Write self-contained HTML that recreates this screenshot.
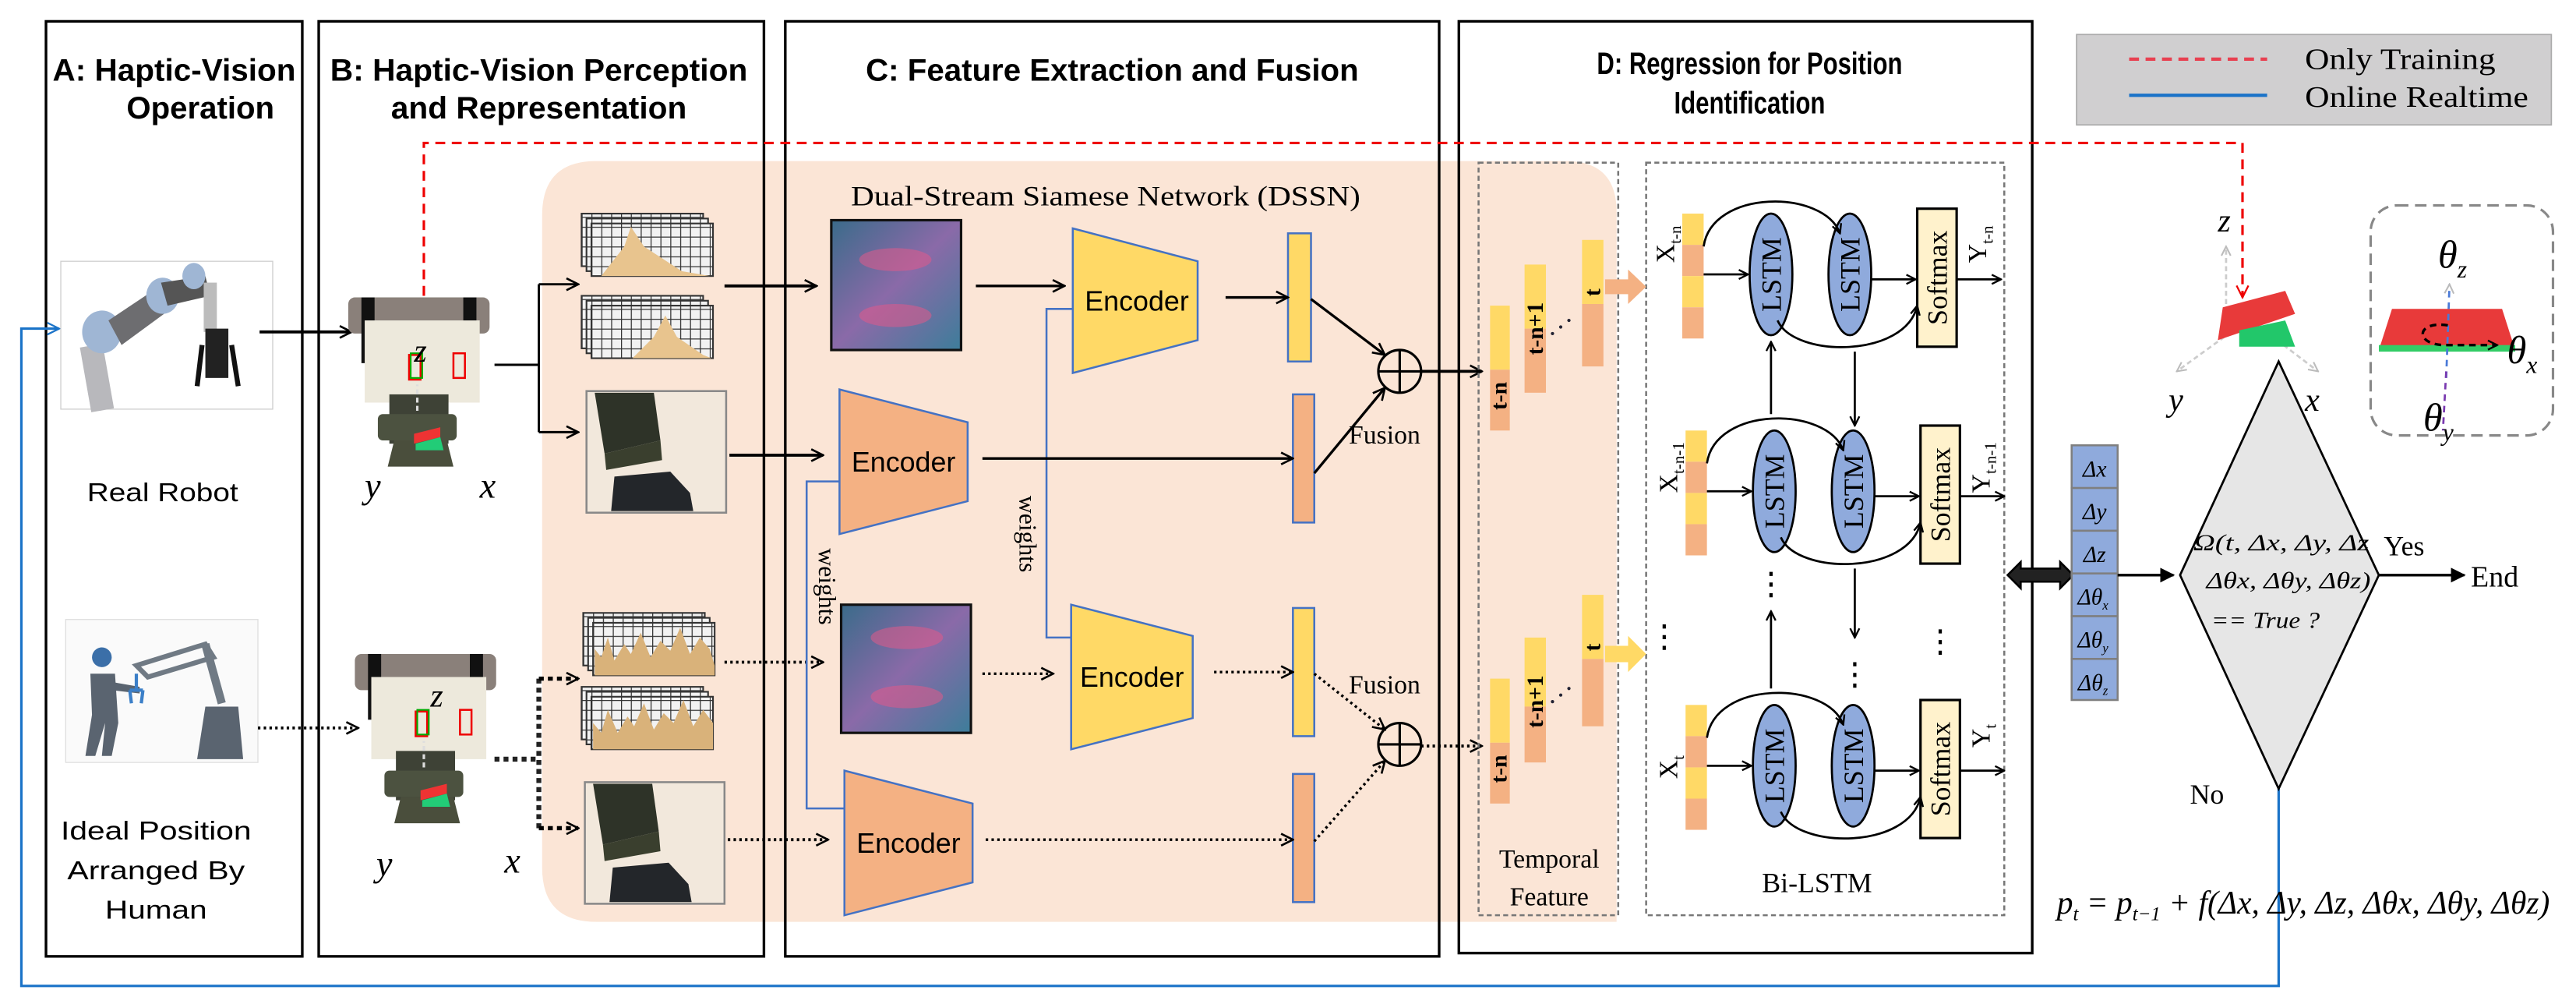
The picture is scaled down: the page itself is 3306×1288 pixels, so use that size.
<!DOCTYPE html>
<html><head><meta charset="utf-8"><style>
html,body{margin:0;padding:0;background:#fff;}
svg{display:block;}
.t{font-family:"Liberation Sans",sans-serif;}
.s{font-family:"Liberation Serif",serif;}
</style></head><body>
<svg width="3306" height="1288" viewBox="0 0 1568 611" preserveAspectRatio="none" xmlns="http://www.w3.org/2000/svg">
<defs>
<marker id="ah" viewBox="0 0 10 10" refX="9" refY="5" markerWidth="7" markerHeight="7" orient="auto" markerUnits="userSpaceOnUse"><path d="M1,1 L9,5 L1,9" fill="none" stroke="#000" stroke-width="1.6"/></marker>
<marker id="ahs" viewBox="0 0 10 10" refX="9" refY="5" markerWidth="9" markerHeight="9" orient="auto" markerUnits="userSpaceOnUse"><path d="M1,1 L9,5 L1,9" fill="none" stroke="#000" stroke-width="1.4"/></marker>
<marker id="ahr" viewBox="0 0 10 10" refX="9" refY="5" markerWidth="9" markerHeight="11" orient="auto" markerUnits="userSpaceOnUse"><path d="M1,1 L9,5 L1,9" fill="none" stroke="#e00" stroke-width="1.2"/></marker>
<marker id="ahb" viewBox="0 0 10 10" refX="9" refY="5" markerWidth="9" markerHeight="9" orient="auto" markerUnits="userSpaceOnUse"><path d="M1,1 L9,5 L1,9" fill="none" stroke="#1a73c8" stroke-width="1.2"/></marker>
<marker id="ahf" viewBox="0 0 10 10" refX="9" refY="5" markerWidth="9" markerHeight="9" orient="auto" markerUnits="userSpaceOnUse"><path d="M0,0 L10,5 L0,10 Z" fill="#000"/></marker>
<marker id="ahg" viewBox="0 0 10 10" refX="9" refY="5" markerWidth="7" markerHeight="7" orient="auto" markerUnits="userSpaceOnUse"><path d="M1,1 L9,5 L1,9" fill="none" stroke="#bbb" stroke-width="1.4"/></marker>
<pattern id="grid" width="6" height="6" patternUnits="userSpaceOnUse"><rect width="6" height="6" fill="#f2f2f2"/><path d="M0,0 H6 M0,0 V6" stroke="#333" stroke-width="1.2"/></pattern>
<linearGradient id="tac" x1="0" y1="0" x2="1" y2="1"><stop offset="0" stop-color="#3a6b8a"/><stop offset="0.5" stop-color="#8a6aa8"/><stop offset="1" stop-color="#3d7d9a"/></linearGradient>
</defs>

<path d="M330,131 Q330,98 363,98 L953,98 Q984,98 984,129 L984,561 L363,561 Q330,561 330,528 Z" fill="#fbe5d6"/>

<rect x="28" y="13" width="156" height="569" fill="none" stroke="#000" stroke-width="1.6"/>
<rect x="194" y="13" width="271" height="569" fill="none" stroke="#000" stroke-width="1.6"/>
<rect x="478" y="13" width="398" height="569" fill="none" stroke="#000" stroke-width="1.6"/>
<rect x="888" y="13" width="349" height="567" fill="none" stroke="#000" stroke-width="1.6"/>

<g class="t" font-weight="bold" font-size="19" text-anchor="middle">
<text x="106" y="49" textLength="148" lengthAdjust="spacingAndGlyphs">A: Haptic-Vision</text>
<text x="122" y="72" textLength="90" lengthAdjust="spacingAndGlyphs">Operation</text>
<text x="328" y="49" textLength="254" lengthAdjust="spacingAndGlyphs">B: Haptic-Vision Perception</text>
<text x="328" y="72" textLength="180" lengthAdjust="spacingAndGlyphs">and Representation</text>
<text x="677" y="49" textLength="300" lengthAdjust="spacingAndGlyphs">C: Feature Extraction and Fusion</text>
<text x="1065" y="45" textLength="186" lengthAdjust="spacingAndGlyphs">D: Regression for Position</text>
<text x="1065" y="69" textLength="92" lengthAdjust="spacingAndGlyphs">Identification</text>
</g>

<rect x="1264" y="21" width="289" height="55" fill="#d0cfd0" stroke="#aaa" stroke-width="0.8"/>
<line x1="1296" y1="36" x2="1380" y2="36" stroke="#e84050" stroke-width="2" stroke-dasharray="6,4"/>
<line x1="1296" y1="58" x2="1380" y2="58" stroke="#1a73c8" stroke-width="2"/>
<text class="s" x="1403" y="42" font-size="18" textLength="116" lengthAdjust="spacingAndGlyphs">Only Training</text>
<text class="s" x="1403" y="65" font-size="18" textLength="136" lengthAdjust="spacingAndGlyphs">Online Realtime</text>

<path d="M258,180 L258,87 L1365,87 L1365,181" fill="none" stroke="#e00" stroke-width="1.5" stroke-dasharray="6,4" marker-end="url(#ahr)"/>
<path d="M1387,480 L1387,600 L13,600 L13,200 L36,200" fill="none" stroke="#1a73c8" stroke-width="1.5" marker-end="url(#ahb)"/>

<rect x="37" y="159" width="129" height="90" fill="#fff" stroke="#ccc" stroke-width="0.6"/>
<g>
<rect x="52" y="210" width="14" height="40" fill="#b8b8bc" transform="rotate(-10 59 230)"/>
<ellipse cx="62" cy="202" rx="12" ry="13" fill="#9fb6d4"/>
<path d="M66,195 L96,175 L104,188 L74,210 Z" fill="#6d6d70"/>
<ellipse cx="99" cy="180" rx="10" ry="11" fill="#9fb6d4"/>
<path d="M98,172 L125,168 L128,180 L102,186 Z" fill="#555"/>
<ellipse cx="118" cy="168" rx="7" ry="8" fill="#9fb6d4"/>
<rect x="124" y="172" width="8" height="30" fill="#bcbcbc"/>
<rect x="125" y="200" width="14" height="30" fill="#222"/>
<path d="M123,210 L120,235 M141,210 L145,235" stroke="#111" stroke-width="3"/>
</g>
<text class="t" x="99" y="305" font-size="16" text-anchor="middle" textLength="92" lengthAdjust="spacingAndGlyphs">Real Robot</text>

<rect x="40" y="377" width="117" height="87" fill="#fafafa" stroke="#ddd" stroke-width="0.6"/>
<g fill="#5a6470">
<circle cx="62" cy="400" r="6" fill="#3b6fa8"/>
<path d="M55,410 L70,410 L72,440 L68,460 L62,460 L64,440 L58,460 L52,460 L56,435 Z"/>
<path d="M68,415 L85,418 L85,422 L68,420 Z"/>
<path d="M125,430 L145,430 L148,462 L120,462 Z"/>
<path d="M83,405 L125,392 L130,400 L90,412 Z" fill="none" stroke="#707a84" stroke-width="3"/>
<path d="M125,392 L135,428" stroke="#707a84" stroke-width="5"/>
<path d="M83,410 L83,420 M79,420 L87,420 M79,420 L80,428 M87,420 L86,428" stroke="#3b7fc8" stroke-width="2" fill="none"/>
</g>
<g class="t" font-size="16" text-anchor="middle">
<text x="95" y="511" textLength="116" lengthAdjust="spacingAndGlyphs">Ideal Position</text>
<text x="95" y="535" textLength="108" lengthAdjust="spacingAndGlyphs">Arranged By</text>
<text x="95" y="559" textLength="62" lengthAdjust="spacingAndGlyphs">Human</text>
</g>

<line x1="158" y1="202" x2="214" y2="202" stroke="#000" stroke-width="1.8" marker-end="url(#ahs)"/>
<line x1="157" y1="443" x2="218" y2="443" stroke="#000" stroke-width="1.8" stroke-dasharray="1.5,2" marker-end="url(#ahs)"/>

<g id="grip">
<rect x="212" y="181" width="86" height="22" fill="#8a807a" rx="4"/>
<rect x="220" y="181" width="8" height="40" fill="#111"/>
<rect x="282" y="181" width="8" height="40" fill="#111"/>
<rect x="222" y="195" width="70" height="50" fill="#ede9dc"/>
<rect x="237" y="240" width="36" height="30" fill="#3e4236"/>
<rect x="230" y="252" width="48" height="16" fill="#4c5240" rx="3"/>
<path d="M240,268 L272,268 L276,284 L236,284 Z" fill="#4a4e3c"/>
<rect x="249" y="216" width="7" height="15" fill="none" stroke="#e00" stroke-width="1.2"/>
<rect x="250" y="215" width="7" height="15" fill="none" stroke="#0a0" stroke-width="1"/>
<rect x="276" y="215" width="7" height="15" fill="none" stroke="#e00" stroke-width="1.2"/>
<path d="M252,264 L268,260 L268,266 L252,270 Z" fill="#e33"/>
<path d="M253,270 L268,266 L270,274 L253,274 Z" fill="#2c7"/>
<line x1="254" y1="250" x2="254" y2="234" stroke="#ddd" stroke-width="1.5" stroke-dasharray="3,2"/>
</g>
<text class="s" x="252" y="220" font-size="20" font-style="italic">z</text>
<text class="s" x="222" y="303" font-size="22" font-style="italic">y</text>
<text class="s" x="292" y="303" font-size="22" font-style="italic">x</text>

<use href="#grip" transform="translate(4,217)"/>
<text class="s" x="262" y="430" font-size="20" font-style="italic">z</text>
<text class="s" x="229" y="533" font-size="22" font-style="italic">y</text>
<text class="s" x="307" y="531" font-size="22" font-style="italic">x</text>

<path d="M301,222 L328,222 M328,173 L328,263" stroke="#000" stroke-width="1.4" fill="none"/>
<line x1="328" y1="173" x2="352" y2="173" stroke="#000" stroke-width="1.4" marker-end="url(#ahs)"/>
<line x1="328" y1="263" x2="352" y2="263" stroke="#000" stroke-width="1.4" marker-end="url(#ahs)"/>
<path d="M301,462 L328,462 M328,413 L328,504" stroke="#222" stroke-width="3" stroke-dasharray="3,2.5" fill="none"/>
<line x1="328" y1="413" x2="352" y2="413" stroke="#000" stroke-width="2.5" stroke-dasharray="3,2.5" marker-end="url(#ahs)"/>
<line x1="328" y1="504" x2="352" y2="504" stroke="#000" stroke-width="2.5" stroke-dasharray="3,2.5" marker-end="url(#ahs)"/>

<g id="g1">
<rect x="354" y="130" width="74" height="32" fill="url(#grid)" stroke="#333"/>
<rect x="357" y="133" width="74" height="32" fill="url(#grid)" stroke="#333"/>
<rect x="360" y="136" width="74" height="32" fill="url(#grid)" stroke="#333"/>
</g>
<path d="M366,168 L380,150 L384,138 L392,150 L415,165 L432,168 Z" fill="#e8c48e"/>
<use href="#g1" transform="translate(0,50)"/>
<path d="M385,218 L398,205 L405,192 L412,205 L428,216 L433,218 Z" fill="#e8c48e"/>
<use href="#g1" transform="translate(1,243)"/>
<path d="M362,411 L362,395 L366,400 L370,388 L374,402 L380,392 L384,398 L390,385 L396,400 L402,390 L408,396 L414,382 L420,398 L426,388 L432,395 L435,405 L435,411 Z" fill="#d9b27a"/>
<use href="#g1" transform="translate(0,288)"/>
<path d="M361,456 L361,440 L366,446 L370,432 L376,446 L382,436 L386,442 L392,428 L398,444 L404,434 L410,440 L416,426 L422,442 L428,432 L434,440 L434,456 Z" fill="#d9b27a"/>

<g id="cam">
<rect x="357" y="238" width="85" height="74" fill="#f2e8dc" stroke="#888" stroke-width="1.2"/>
<path d="M362,239 L398,239 L402,268 L368,276 Z" fill="#2e3328"/>
<path d="M368,276 L402,268 L403,280 L369,286 Z" fill="#3a3f2e"/>
<path d="M374,290 L408,287 L420,300 L422,311 L372,311 Z" fill="#23262a"/>
</g>
<use href="#cam" transform="translate(-1,238)"/>

<line x1="441" y1="174" x2="497" y2="174" stroke="#000" stroke-width="1.8" marker-end="url(#ahs)"/>
<line x1="444" y1="277" x2="501" y2="277" stroke="#000" stroke-width="1.8" marker-end="url(#ahs)"/>
<line x1="441" y1="403" x2="501" y2="403" stroke="#000" stroke-width="1.8" stroke-dasharray="1.5,2" marker-end="url(#ahs)"/>
<line x1="443" y1="511" x2="504" y2="511" stroke="#000" stroke-width="1.8" stroke-dasharray="1.5,2" marker-end="url(#ahs)"/>

<text class="s" x="518" y="125" font-size="17" textLength="310" lengthAdjust="spacingAndGlyphs">Dual-Stream Siamese Network (DSSN)</text>
<rect x="506" y="134" width="79" height="79" fill="url(#tac)" stroke="#111" stroke-width="1.5"/>
<rect x="512" y="368" width="79" height="78" fill="url(#tac)" stroke="#111" stroke-width="1.5"/>
<g fill="#e05a8a" opacity="0.55">
<ellipse cx="545" cy="158" rx="22" ry="7"/><ellipse cx="545" cy="192" rx="22" ry="7"/>
<ellipse cx="552" cy="388" rx="22" ry="7"/><ellipse cx="552" cy="424" rx="22" ry="7"/>
</g>
<path d="M653,188 L637,188 L637,388 L652,388" fill="none" stroke="#4472c4" stroke-width="1.2"/>
<path d="M511,293 L491,293 L491,492 L514,492" fill="none" stroke="#4472c4" stroke-width="1.2"/>
<text class="s" x="624" y="325" font-size="15" text-anchor="middle" transform="rotate(90 624 325)" dominant-baseline="middle">weights</text>
<text class="s" x="502" y="357" font-size="15" text-anchor="middle" transform="rotate(90 502 357)" dominant-baseline="middle">weights</text>
<g class="t" font-size="17" stroke="#4472c4" stroke-width="1.2">
<path d="M653,139 L729,159 L729,207 L653,227 Z" fill="#ffd966"/>
<path d="M511,237 L589,257 L589,305 L511,325 Z" fill="#f4b183"/>
<path d="M652,368 L726,387 L726,437 L652,456 Z" fill="#ffd966"/>
<path d="M514,469 L592,489 L592,537 L514,557 Z" fill="#f4b183"/>
</g>
<g class="t" font-size="17" text-anchor="middle">
<text x="692" y="189">Encoder</text>
<text x="550" y="287">Encoder</text>
<text x="689" y="418">Encoder</text>
<text x="553" y="519">Encoder</text>
</g>
<rect x="784" y="142" width="14" height="78" fill="#ffd966" stroke="#4472c4" stroke-width="1.2"/>
<rect x="787" y="240" width="13" height="78" fill="#f4b183" stroke="#4472c4" stroke-width="1.2"/>
<rect x="787" y="370" width="13" height="78" fill="#ffd966" stroke="#4472c4" stroke-width="1.2"/>
<rect x="787" y="471" width="13" height="78" fill="#f4b183" stroke="#4472c4" stroke-width="1.2"/>
<line x1="594" y1="174" x2="648" y2="174" stroke="#000" stroke-width="1.6" marker-end="url(#ahs)"/>
<line x1="746" y1="181" x2="784" y2="181" stroke="#000" stroke-width="1.6" marker-end="url(#ahs)"/>
<line x1="598" y1="279" x2="787" y2="279" stroke="#000" stroke-width="1.6" marker-end="url(#ahs)"/>
<line x1="598" y1="410" x2="641" y2="410" stroke="#000" stroke-width="1.6" stroke-dasharray="1.5,2" marker-end="url(#ahs)"/>
<line x1="739" y1="409" x2="787" y2="409" stroke="#000" stroke-width="1.6" stroke-dasharray="1.5,2" marker-end="url(#ahs)"/>
<line x1="600" y1="511" x2="787" y2="511" stroke="#000" stroke-width="1.6" stroke-dasharray="1.5,2" marker-end="url(#ahs)"/>
<line x1="798" y1="182" x2="843" y2="216" stroke="#000" stroke-width="1.6" marker-end="url(#ahs)"/>
<line x1="800" y1="288" x2="843" y2="236" stroke="#000" stroke-width="1.6" marker-end="url(#ahs)"/>
<line x1="800" y1="410" x2="843" y2="444" stroke="#000" stroke-width="1.6" stroke-dasharray="1.5,2" marker-end="url(#ahs)"/>
<line x1="800" y1="512" x2="843" y2="463" stroke="#000" stroke-width="1.6" stroke-dasharray="1.5,2" marker-end="url(#ahs)"/>
<g stroke="#000" stroke-width="1.5" fill="none">
<circle cx="852" cy="226" r="13"/><path d="M839,226 H865 M852,213 V239"/>
<circle cx="852" cy="453" r="13"/><path d="M839,453 H865 M852,440 V466"/>
</g>
<text class="s" x="821" y="270" font-size="16">Fusion</text>
<text class="s" x="821" y="422" font-size="16">Fusion</text>
<line x1="865" y1="226" x2="902" y2="226" stroke="#000" stroke-width="1.8" marker-end="url(#ahs)"/>
<line x1="865" y1="454" x2="902" y2="454" stroke="#000" stroke-width="1.8" stroke-dasharray="1.5,2" marker-end="url(#ahs)"/>

<rect x="900" y="99" width="85" height="458" fill="none" stroke="#777" stroke-width="1.2" stroke-dasharray="3,2"/>
<rect x="1002" y="99" width="218" height="458" fill="none" stroke="#777" stroke-width="1.2" stroke-dasharray="3,2"/>
<g>
<rect x="907" y="186" width="12" height="39" fill="#ffd966"/><rect x="907" y="225" width="12" height="37" fill="#f4b183"/>
<rect x="928" y="161" width="13" height="39" fill="#ffd966"/><rect x="928" y="200" width="13" height="39" fill="#f4b183"/>
<rect x="963" y="146" width="13" height="39" fill="#ffd966"/><rect x="963" y="185" width="13" height="38" fill="#f4b183"/>
<g class="s" font-weight="bold" font-size="14" text-anchor="middle">
<text transform="translate(917,241) rotate(-90)">t-n</text>
<text transform="translate(939,200) rotate(-90)">t-n+1</text>
<text transform="translate(974,178) rotate(-90)">t</text>
</g>
<g fill="#223"><circle cx="945" cy="203" r="1"/><circle cx="950" cy="199" r="1"/><circle cx="955" cy="195" r="1"/></g>
<path d="M977,170 L991,170 L991,164 L1002,174.5 L991,185 L991,179 L977,179 Z" fill="#f4b183"/>
</g>
<g transform="translate(0,227)">
<rect x="907" y="186" width="12" height="39" fill="#ffd966"/><rect x="907" y="225" width="12" height="37" fill="#f4b183"/>
<rect x="928" y="161" width="13" height="42" fill="#ffd966"/><rect x="928" y="203" width="13" height="34" fill="#f4b183"/>
<rect x="963" y="135" width="13" height="39" fill="#ffd966"/><rect x="963" y="174" width="13" height="41" fill="#f4b183"/>
<g class="s" font-weight="bold" font-size="14" text-anchor="middle">
<text transform="translate(917,241) rotate(-90)">t-n</text>
<text transform="translate(939,200) rotate(-90)">t-n+1</text>
<text transform="translate(974,167) rotate(-90)">t</text>
</g>
<g fill="#223"><circle cx="945" cy="200" r="1"/><circle cx="950" cy="196" r="1"/><circle cx="955" cy="192" r="1"/></g>
<path d="M977,166 L991,166 L991,160 L1002,171 L991,182 L991,176 L977,176 Z" fill="#ffd966"/>
</g>
<text class="s" x="943" y="528" font-size="16" text-anchor="middle">Temporal</text>
<text class="s" x="943" y="551" font-size="16" text-anchor="middle">Feature</text>
<text class="s" x="1106" y="543" font-size="17" text-anchor="middle">Bi-LSTM</text>

<g id="row1">
<rect x="1024" y="130" width="13" height="19" fill="#ffd966"/><rect x="1024" y="149" width="13" height="19" fill="#f4b183"/>
<rect x="1024" y="168" width="13" height="19" fill="#ffd966"/><rect x="1024" y="187" width="13" height="19" fill="#f4b183"/>
<ellipse cx="1078" cy="167" rx="13" ry="37" fill="#8faadc" stroke="#000" stroke-width="1.3"/>
<ellipse cx="1126" cy="167" rx="13" ry="37" fill="#8faadc" stroke="#000" stroke-width="1.3"/>
<rect x="1167" y="127" width="24" height="84" fill="#fff2cc" stroke="#000" stroke-width="1.5"/>
<g class="s" font-size="17" text-anchor="middle">
<text transform="translate(1084,167) rotate(-90)">LSTM</text>
<text transform="translate(1132,167) rotate(-90)">LSTM</text>
<text transform="translate(1185,169) rotate(-90)">Softmax</text>
</g>
<line x1="1037" y1="167" x2="1064" y2="167" stroke="#000" stroke-width="1.3" marker-end="url(#ah)"/>
<line x1="1139" y1="170" x2="1166" y2="170" stroke="#000" stroke-width="1.3" marker-end="url(#ah)"/>
<line x1="1191" y1="170" x2="1218" y2="170" stroke="#000" stroke-width="1.3" marker-end="url(#ah)"/>
<path d="M1037,150 C1042,115 1110,115 1120,142" fill="none" stroke="#000" stroke-width="1.3" marker-end="url(#ah)"/>
<path d="M1082,195 C1092,218 1160,218 1167,186" fill="none" stroke="#000" stroke-width="1.3" marker-end="url(#ah)"/>
</g>
<g class="s" font-size="16">
<text transform="translate(1019,160) rotate(-90)">X<tspan font-size="10" dy="4">t-n</tspan></text>
<text transform="translate(1209,160) rotate(-90)">Y<tspan font-size="10" dy="4">t-n</tspan></text>
</g>
<use href="#row1" transform="translate(2,132)"/>
<g class="s" font-size="16">
<text transform="translate(1021,300) rotate(-90)">X<tspan font-size="10" dy="4">t-n-1</tspan></text>
<text transform="translate(1211,300) rotate(-90)">Y<tspan font-size="10" dy="4">t-n-1</tspan></text>
</g>
<use href="#row1" transform="translate(2,299)"/>
<g class="s" font-size="16">
<text transform="translate(1021,474) rotate(-90)">X<tspan font-size="10" dy="4">t</tspan></text>
<text transform="translate(1211,455) rotate(-90)">Y<tspan font-size="10" dy="4">t</tspan></text>
</g>
<line x1="1078" y1="252" x2="1078" y2="208" stroke="#000" stroke-width="1.3" marker-end="url(#ah)"/>
<line x1="1129" y1="214" x2="1129" y2="259" stroke="#000" stroke-width="1.3" marker-end="url(#ah)"/>
<line x1="1078" y1="419" x2="1078" y2="372" stroke="#000" stroke-width="1.3" marker-end="url(#ah)"/>
<line x1="1129" y1="346" x2="1129" y2="388" stroke="#000" stroke-width="1.3" marker-end="url(#ah)"/>
<g stroke="#000" stroke-width="2" stroke-dasharray="2.5,4">
<line x1="1078" y1="348" x2="1078" y2="366"/>
<line x1="1013" y1="380" x2="1013" y2="398"/>
<line x1="1181" y1="383" x2="1181" y2="400"/>
<line x1="1129" y1="403" x2="1129" y2="421"/>
</g>

<g stroke="#000" stroke-width="1.2">
<path d="M1222,350 L1230,342 L1230,346 L1254,346 L1254,342 L1262,350 L1254,358 L1254,354 L1230,354 L1230,358 Z" fill="#222"/>
</g>
<g stroke="#7f7f7f" stroke-width="1.2" fill="#8faadc">
<rect x="1261" y="271" width="28" height="26"/><rect x="1261" y="297" width="28" height="26"/>
<rect x="1261" y="323" width="28" height="26"/><rect x="1261" y="349" width="28" height="26"/>
<rect x="1261" y="375" width="28" height="26"/><rect x="1261" y="401" width="28" height="25"/>
</g>
<g class="s" font-size="14" font-style="italic" text-anchor="middle">
<text x="1275" y="290">Δx</text><text x="1275" y="316">Δy</text><text x="1275" y="342">Δz</text>
<text x="1274" y="368">Δθ<tspan font-size="8" dy="3">x</tspan></text>
<text x="1274" y="394">Δθ<tspan font-size="8" dy="3">y</tspan></text>
<text x="1274" y="420">Δθ<tspan font-size="8" dy="3">z</tspan></text>
</g>
<line x1="1289" y1="350" x2="1323" y2="350" stroke="#000" stroke-width="1.6" marker-end="url(#ahf)"/>
<path d="M1387,220 L1448,350 L1387,480 L1327,350 Z" fill="#e6e6e6" stroke="#000" stroke-width="1.3"/>
<g class="s" font-size="14" font-style="italic">
<text x="1335" y="335" textLength="107" lengthAdjust="spacingAndGlyphs">Ω(t, Δx, Δy, Δz</text>
<text x="1343" y="358" textLength="100" lengthAdjust="spacingAndGlyphs">Δθx, Δθy, Δθz)</text>
<text x="1346" y="382" textLength="66" lengthAdjust="spacingAndGlyphs">== True ?</text>
</g>
<line x1="1448" y1="350" x2="1500" y2="350" stroke="#000" stroke-width="1.6" marker-end="url(#ahf)"/>
<text class="s" x="1451" y="338" font-size="17">Yes</text>
<text class="s" x="1504" y="357" font-size="18">End</text>
<text class="s" x="1333" y="489" font-size="17">No</text>
<text class="s" x="1252" y="556" font-size="20" font-style="italic" textLength="300" lengthAdjust="spacingAndGlyphs">p<tspan font-size="12" dy="4">t</tspan><tspan dy="-4"> = p</tspan><tspan font-size="12" dy="4">t−1</tspan><tspan dy="-4"> + f(Δx, Δy, Δz, Δθx, Δθy, Δθz)</tspan></text>

<line x1="1355" y1="190" x2="1355" y2="150" stroke="#ccc" stroke-width="1.3" stroke-dasharray="3,2" marker-end="url(#ahg)"/>
<line x1="1354" y1="205" x2="1325" y2="226" stroke="#ccc" stroke-width="1.3" stroke-dasharray="3,2" marker-end="url(#ahg)"/>
<line x1="1390" y1="210" x2="1411" y2="226" stroke="#ccc" stroke-width="1.3" stroke-dasharray="3,2" marker-end="url(#ahg)"/>
<path d="M1353,187 L1391,177 L1397,191 L1350,207 Z" fill="#e83a3a"/>
<path d="M1363,201 L1391,195 L1397,211 L1363,211 Z" fill="#22c76a"/>
<text class="s" x="1350" y="141" font-size="20" font-style="italic">z</text>
<text class="s" x="1320" y="250" font-size="20" font-style="italic">y</text>
<text class="s" x="1403" y="250" font-size="20" font-style="italic">x</text>
<rect x="1443" y="125" width="111" height="140" rx="16" fill="none" stroke="#888" stroke-width="1.5" stroke-dasharray="7,4"/>
<path d="M1456,188 L1523,188 L1531,213 L1448,213 Z" fill="#e83a3a"/>
<rect x="1448" y="210" width="83" height="4" fill="#3c6"/>
<line x1="1489" y1="230" x2="1491" y2="173" stroke="#4a7ad8" stroke-width="1.3" stroke-dasharray="4,3" marker-end="url(#ahg)"/>
<line x1="1489" y1="226" x2="1487" y2="262" stroke="#7a3ab0" stroke-width="1.3" stroke-dasharray="4,3"/>
<path d="M1490,198 C1470,195 1470,210 1488,210 L1520,210" fill="none" stroke="#000" stroke-width="1.6" stroke-dasharray="4,3" marker-end="url(#ah)"/>
<text class="s" x="1484" y="163" font-size="24" font-style="italic">θ<tspan font-size="15" dy="6">z</tspan></text>
<text class="s" x="1526" y="221" font-size="24" font-style="italic">θ<tspan font-size="15" dy="6">x</tspan></text>
<text class="s" x="1475" y="262" font-size="24" font-style="italic">θ<tspan font-size="15" dy="6">y</tspan></text>
</svg>
</body></html>
